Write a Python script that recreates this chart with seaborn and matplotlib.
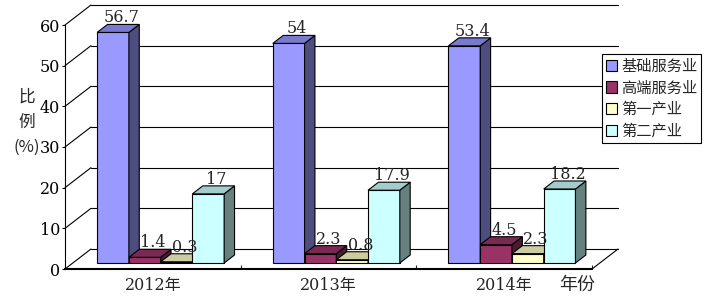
import matplotlib
matplotlib.use("Agg")
import matplotlib.pyplot as plt
import matplotlib.colors as mcolors
from matplotlib.patches import Polygon, Patch
import seaborn as sns
import pandas as pd
import numpy as np

# ---- data ----
years = ["2012年", "2013年", "2014年"]
series = ["基础服务业", "高端服务业", "第一产业", "第二产业"]
basic = [56.7, 54, 53.4]
high = [1.4, 2.3, 4.5]
primary = [0.3, 0.8, 2.3]
secondary = [17, 17.9, 18.2]
yticks = [0, 10, 20, 30, 40, 50, 60]

front_colors = ["#9999FF", "#993366", "#FFFFCC", "#CCFFFF"]
side_colors = ["#4D4D80", "#4D1A33", "#808066", "#668080"]
top_colors = ["#7A7ACC", "#7A2952", "#CCCCA3", "#A3CCCC"]

df = pd.DataFrame({
    "year": years * 4,
    "series": np.repeat(series, 3),
    "value": basic + high + primary + secondary,
})

sns.set_style("white")
plt.rcParams["font.family"] = ["DejaVu Serif", "Noto Sans CJK SC"]
CJK = ["Noto Sans CJK SC", "DejaVu Sans"]

W_PX, H_PX = 709, 300
fig = plt.figure(figsize=(W_PX / 100, H_PX / 100), dpi=100)
ax_l, ax_r, ax_t, ax_b = 65, 592, 25, 269
ax = fig.add_axes([ax_l / W_PX, 1 - ax_b / H_PX, (ax_r - ax_l) / W_PX, (ax_b - ax_t) / H_PX])

sns.barplot(data=df, x="year", y="value", hue="series", order=years, hue_order=series,
            palette=front_colors, saturation=1, width=0.723, edgecolor="black",
            linewidth=0.8, legend=False, errorbar=None, ax=ax)

ax.set_xlim(-0.5, 2.5)
ax.set_ylim(0, 60)
px_x = (ax_r - ax_l) / 3.0
px_y = (ax_b - ax_t) / 60.0
DX = 26 / px_x
DY = 20 / px_y
d0, d1 = 0.3, 0.7

# 3D-ish bars
bars = [p for p in ax.patches if p.get_height() > 0 or True]
bars = sorted(bars, key=lambda p: p.get_x())
front_rgba = [mcolors.to_rgba(c) for c in front_colors]
for rank, p in enumerate(bars):
    fc = p.get_facecolor()
    k = int(np.argmin([np.sum(np.abs(np.array(fc) - np.array(c))) for c in front_rgba]))
    x0, w, h = p.get_x(), p.get_width(), p.get_height()
    fx, fy = x0 + d0 * DX, d0 * DY
    bx, by = x0 + d1 * DX, d1 * DY
    z = 3 + rank * 0.1
    p.set_x(fx)
    p.set_y(fy)
    p.set_zorder(z)
    p.set_clip_on(False)
    side = Polygon([(fx + w, fy), (fx + w, fy + h), (bx + w, by + h), (bx + w, by)],
                   closed=True, facecolor=side_colors[k], edgecolor="black", lw=0.8,
                   zorder=z + 0.01, clip_on=False)
    top = Polygon([(fx, fy + h), (fx + w, fy + h), (bx + w, by + h), (bx, by + h)],
                  closed=True, facecolor=top_colors[k], edgecolor="black", lw=0.8,
                  zorder=z + 0.02, clip_on=False)
    ax.add_patch(side)
    ax.add_patch(top)
    lx = fx + w / 2 + (d1 - d0) * DX / 2 + 3 / px_x
    ax.text(lx, by + h + 2 / px_y, f"{h:g}", ha="center", va="baseline",
            fontsize=11.5, family="DejaVu Serif", zorder=20, clip_on=False)

# walls
for v in yticks:
    ax.plot([-0.5 + DX, 2.5 + DX], [v + DY, v + DY], color="black", lw=0.8,
            clip_on=False, zorder=1)
    ax.plot([-0.5, -0.5 + DX], [v, v + DY], color="black", lw=0.8,
            clip_on=False, zorder=1)
ax.plot([2.5, 2.5 + DX], [0, DY], color="black", lw=0.8, clip_on=False, zorder=1)

# axes styling
for s in ["top", "right"]:
    ax.spines[s].set_visible(False)
ax.spines["left"].set_linewidth(0.8)
ax.spines["left"].set_color("black")
ax.spines["bottom"].set_linewidth(1.5)
ax.spines["bottom"].set_color("black")
ax.set_yticks(yticks)
ax.set_xticks(range(len(years)))
ax.set_xticklabels(years)
ax.set_xticks([0.5, 1.5, 2.5], minor=True)
ax.tick_params(axis="y", direction="out", length=2, width=0.8, pad=1.5, labelsize=11.5,
               left=True, colors="black")
ax.tick_params(axis="x", which="major", length=0, pad=6, labelsize=11.5)
ax.tick_params(axis="x", which="minor", direction="in", length=3, width=0.8, bottom=True)
ax.set_xlabel("")
ax.set_ylabel("")
ax.grid(False)

# axis titles
for txt, ypx in [("比", 97), ("例", 122), ("(%)", 147)]:
    fig.text(27 / W_PX, 1 - ypx / H_PX, txt, ha="center", va="center", family=CJK, fontsize=12)
fig.text(577 / W_PX, 1 - 285 / H_PX, "年份", ha="center", va="center", family=CJK, fontsize=13)

# legend
handles = [Patch(facecolor=c, edgecolor="black", lw=0.8) for c in front_colors]
leg = fig.legend(handles, series, loc="upper left", bbox_to_anchor=(602 / W_PX, 1 - 54 / H_PX),
                 frameon=True, fancybox=False, edgecolor="black", framealpha=1,
                 prop={"family": CJK, "size": 11}, handlelength=0.75, handleheight=0.75,
                 handletextpad=0.25, labelspacing=0.3, borderpad=0.25, borderaxespad=0)
leg.get_frame().set_linewidth(0.8)

fig.savefig("out.png", dpi=100)
